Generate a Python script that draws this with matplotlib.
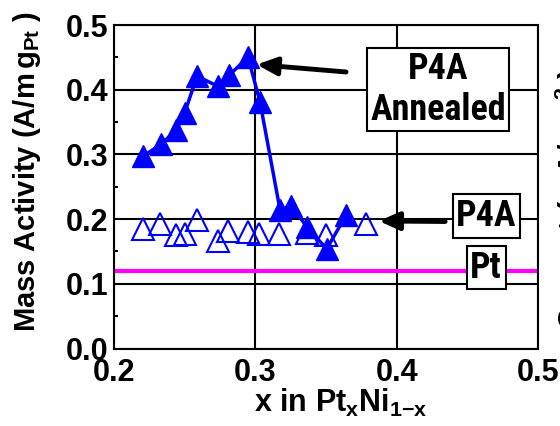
import matplotlib
matplotlib.use('Agg')
import matplotlib.pyplot as plt
import numpy as np

# ---- data ----
x_annealed = [0.2205, 0.2335, 0.244, 0.250, 0.2587, 0.2738, 0.2814, 0.2948,
              0.3033, 0.3175, 0.3255, 0.3364, 0.3505, 0.3642]
y_annealed = [0.297, 0.316, 0.338, 0.364, 0.421, 0.405, 0.422, 0.4505,
              0.381, 0.214, 0.221, 0.188, 0.154, 0.206]
x_p4a = [0.2203, 0.2326, 0.2439, 0.2505, 0.259, 0.2736, 0.2809, 0.2948,
         0.3028, 0.317, 0.3368, 0.350, 0.378]
y_p4a = [0.1847, 0.193, 0.175, 0.1765, 0.1986, 0.1657, 0.181, 0.180,
         0.1765, 0.177, 0.178, 0.175, 0.192]
pt_level = 0.12
x_ticks = [0.2, 0.3, 0.4, 0.5]
x_ticklabels = ['0.2', '0.3', '0.4', '0.5']
y_ticks = [0.0, 0.1, 0.2, 0.3, 0.4, 0.5]
y_ticklabels = ['0.0', '0.1', '0.2', '0.3', '0.4', '0.5']
y_minor = [0.05, 0.15, 0.25, 0.35, 0.45]

plt.rcParams['font.family'] = ['Liberation Sans', 'DejaVu Sans']
plt.rcParams['font.weight'] = 'bold'
plt.rcParams['mathtext.fontset'] = 'custom'
plt.rcParams['mathtext.rm'] = 'Liberation Sans:bold'
plt.rcParams['mathtext.it'] = 'Liberation Sans:bold'
plt.rcParams['mathtext.bf'] = 'Liberation Sans:bold'
plt.rcParams['mathtext.default'] = 'bf'

fig = plt.figure(figsize=(5.6, 4.26), dpi=100)
ax = fig.add_axes([0.2036, 0.1819, 0.7571, 0.7594])

ax.axhline(pt_level, color='#ff00ff', lw=3, zorder=2)
ax.plot(x_p4a, y_p4a, ls='none', marker='^', ms=15.5, mfc='none',
        mec='blue', mew=1.5, zorder=3)
ax.plot(x_annealed, y_annealed, '-', color='blue', lw=2.5, marker='^',
        ms=15.5, mfc='blue', mec='blue', zorder=4)

ax.set_xlim(0.2, 0.5)
ax.set_ylim(0.0, 0.5)
ax.set_xticks(x_ticks)
ax.set_xticklabels(x_ticklabels)
ax.set_yticks(y_ticks)
ax.set_yticklabels(y_ticklabels)
ax.set_yticks(y_minor, minor=True)
ax.grid(True, which='major', color='black', lw=1.5, zorder=1)
ax.set_axisbelow(True)
ax.tick_params(which='major', length=0, labelsize=22)
ax.tick_params(axis='x', which='major', pad=7)
ax.tick_params(axis='y', which='major', pad=4)
ax.tick_params(axis='y', which='minor', direction='in', length=3, width=1.5)
for sp in ax.spines.values():
    sp.set_linewidth(1.5)

cond = ['Roboto Condensed', 'Liberation Sans']
box = dict(boxstyle='square,pad=0.1', fc='white', ec='black', lw=1.5)
ax.text(0.4293, 0.4003, "P4A\nAnnealed", ha='center', va='center',
        multialignment='center', fontsize=26, family=cond, fontweight='bold',
        linespacing=1.15, bbox=box, zorder=6)
ax.text(0.4636, 0.2048, "P4A", ha='center', va='center', fontsize=26,
        family=cond, fontweight='bold', bbox=box, zorder=6)
ax.text(0.4633, 0.1252, "Pt", ha='center', va='center', fontsize=26,
        family=cond, fontweight='bold', bbox=box, zorder=6)

arrow = dict(arrowstyle='-|>,head_length=0.6,head_width=0.27', color='black',
             lw=3.5, shrinkA=0, shrinkB=0, mutation_scale=20)
ax.annotate('', xy=(0.3010, 0.4389), xytext=(0.3642, 0.4274),
            arrowprops=arrow, zorder=7)
ax.annotate('', xy=(0.3875, 0.1971), xytext=(0.4343, 0.1963),
            arrowprops=arrow, zorder=7)

fig.text(341 / 560, 1 - 412 / 426, r"x in Pt$_{x}$Ni$_{1{-}x}$", ha='center',
         va='baseline', fontsize=22, fontweight='bold')
fig.text(27 / 560, 1 - 172 / 426, r"Mass Activity (A/m$\,$g$_{Pt}$ )",
         rotation=90, ha='center', va='center', fontsize=21, fontweight='bold')
fig.text(553 / 560, 1 - 330 / 426, r"Current (mA/cm$^{2}$ )", rotation=90,
         ha='left', va='bottom', fontsize=22, fontweight='bold')

fig.savefig('out.png', dpi=100)
